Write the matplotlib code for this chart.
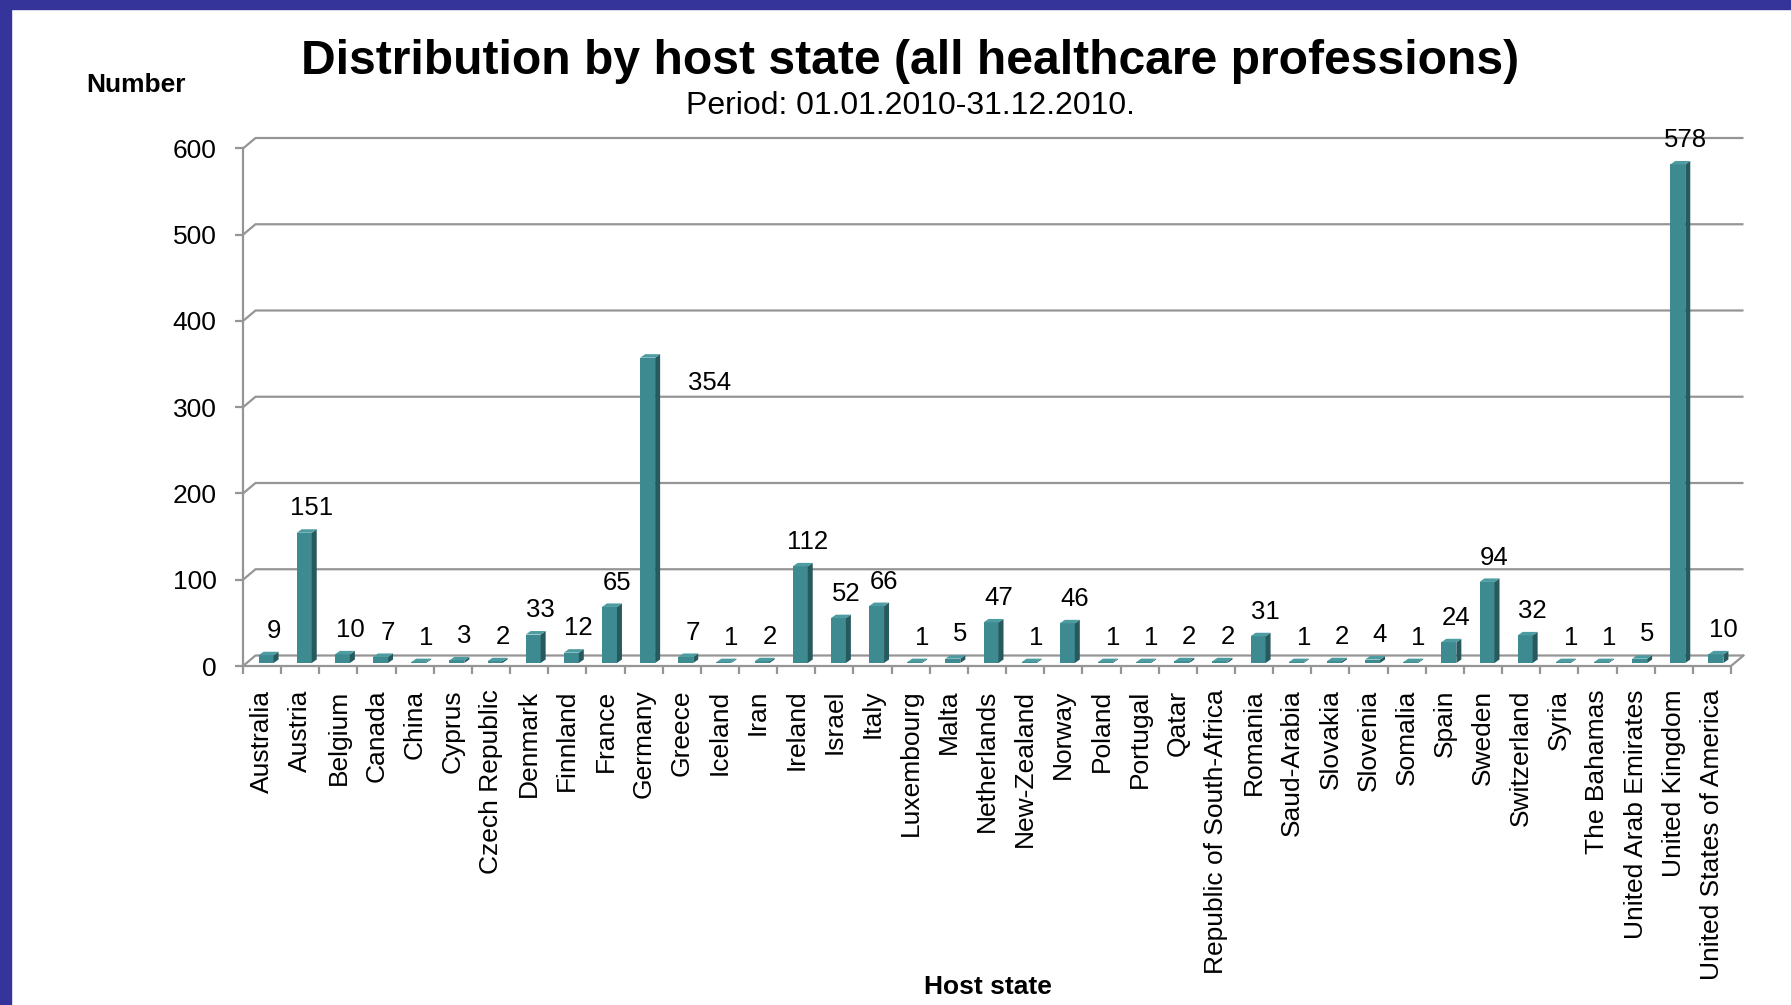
import numpy as np
import matplotlib.pyplot as plt
from matplotlib.patches import Polygon, Rectangle

plt.rcParams['font.family'] = ['Liberation Sans', 'DejaVu Sans']

# data
states = ['Australia', 'Austria', 'Belgium', 'Canada', 'China', 'Cyprus', 'Czech Republic',
          'Denmark', 'Finnland', 'France', 'Germany', 'Greece', 'Iceland', 'Iran', 'Ireland',
          'Israel', 'Italy', 'Luxembourg', 'Malta', 'Netherlands', 'New-Zealand', 'Norway',
          'Poland', 'Portugal', 'Qatar', 'Republic of South-Africa', 'Romania', 'Saud-Arabia',
          'Slovakia', 'Slovenia', 'Somalia', 'Spain', 'Sweden', 'Switzerland', 'Syria',
          'The Bahamas', 'United Arab Emirates', 'United Kingdom', 'United States of America']
counts = [9, 151, 10, 7, 1, 3, 2, 33, 12, 65, 354, 7, 1, 2, 112, 52, 66, 1, 5, 47, 1, 46,
          1, 1, 2, 2, 31, 1, 2, 4, 1, 24, 94, 32, 1, 1, 5, 578, 10]
y_ticks = [0, 100, 200, 300, 400, 500, 600]

title = 'Distribution by host state (all healthcare professions)'
subtitle = 'Period: 01.01.2010-31.12.2010.'

W, H = 1791, 1005
fig = plt.figure(figsize=(W / 100, H / 100), dpi=100)

# blue frame on top and left
fig.patches.append(Rectangle((0, 1 - 9 / H), 1, 9 / H, transform=fig.transFigure,
                             color='#35349a', zorder=0))
fig.patches.append(Rectangle((0, 0), 11 / W, 1, transform=fig.transFigure,
                             color='#35349a', zorder=0))

x0, x1 = 243, 1731
y0, y1 = 666, 148.5
ax = fig.add_axes([x0 / W, 1 - y0 / H, (x1 - x0) / W, (y0 - y1) / H])
n = len(states)
xmin, xmax = -0.5, n - 0.5
ymax = y_ticks[-1]
ax.set_xlim(xmin, xmax)
ax.set_ylim(0, ymax)

px_x = (x1 - x0) / (xmax - xmin)   # pixels per category
px_y = (y0 - y1) / ymax            # pixels per unit

# wall depth, in data units
wdx = 12.5 / px_x
wdy = 10.5 / px_y
grid_c = '#959595'
lw = 1.6

for t in y_ticks:
    ax.plot([xmin, xmin + wdx, xmax + wdx], [t, t + wdy, t + wdy],
            color=grid_c, lw=lw, clip_on=False, zorder=1, solid_capstyle='butt')
# front edge of floor + left axis
ax.plot([xmin, xmax, xmax + wdx], [0, 0, wdy], color=grid_c, lw=lw, clip_on=False, zorder=1)
ax.plot([xmin, xmin], [0, ymax], color=grid_c, lw=lw, clip_on=False, zorder=1)

# 3d bars
bw = 15.0 / px_x
shift = 4.0 / px_x
base = 3.0 / px_y
bdx = 5.0 / px_x
bdy = 3.5 / px_y
front_c, side_c, top_c = '#3d8a90', '#275a5e', '#4d9ca1'
xs = np.arange(n)
bars = ax.bar(xs + shift, counts, width=bw, bottom=base, color=front_c, zorder=3,
              linewidth=0)
for b, v in zip(bars, counts):
    l = b.get_x()
    r = l + b.get_width()
    top = base + v
    ax.add_patch(Polygon([(r, base), (r + bdx, base + bdy), (r + bdx, top + bdy), (r, top)],
                         closed=True, facecolor=side_c, edgecolor='none', zorder=3,
                         clip_on=False))
    ax.add_patch(Polygon([(l, top), (l + bdx, top + bdy), (r + bdx, top + bdy), (r, top)],
                         closed=True, facecolor=top_c, edgecolor='none', zorder=3,
                         clip_on=False))

# value labels
label_shift = {'Germany': (39, -18)}
for i, (s, v) in enumerate(zip(states, counts)):
    off = label_shift.get(s, (0, 17.5))
    ax.annotate(str(v), xy=(i + shift + bw / 2, base + v), xytext=off,
                textcoords='offset points', ha='center', va='center',
                fontsize=18.5, zorder=4, annotation_clip=False)

for sp in ax.spines.values():
    sp.set_visible(False)
ax.set_yticks(y_ticks)
ax.set_yticklabels([str(t) for t in y_ticks])
ax.set_xticks(xs)
ax.set_xticklabels(states, rotation=90)
ax.set_xticks(np.arange(n + 1) - 0.5, minor=True)
ax.tick_params(axis='x', which='major', length=0, pad=17, labelsize=19)
ax.tick_params(axis='x', which='minor', length=6, width=lw, color=grid_c)
ax.tick_params(axis='y', length=6, width=lw, color=grid_c, pad=13, labelsize=19)
ax.patch.set_alpha(0)

fig.text(910 / W, 1 - 61 / H, title, ha='center', va='center', fontsize=34.6,
         fontweight='bold')
fig.text(910 / W, 1 - 106.5 / H, subtitle, ha='center', va='center', fontsize=23)
fig.text(86 / W, 1 - 85 / H, 'Number', ha='left', va='center', fontsize=19,
         fontweight='bold')
fig.text(988 / W, 1 - 986.5 / H, 'Host state', ha='center', va='center', fontsize=19,
         fontweight='bold')

fig.savefig('out.png', dpi=100)
